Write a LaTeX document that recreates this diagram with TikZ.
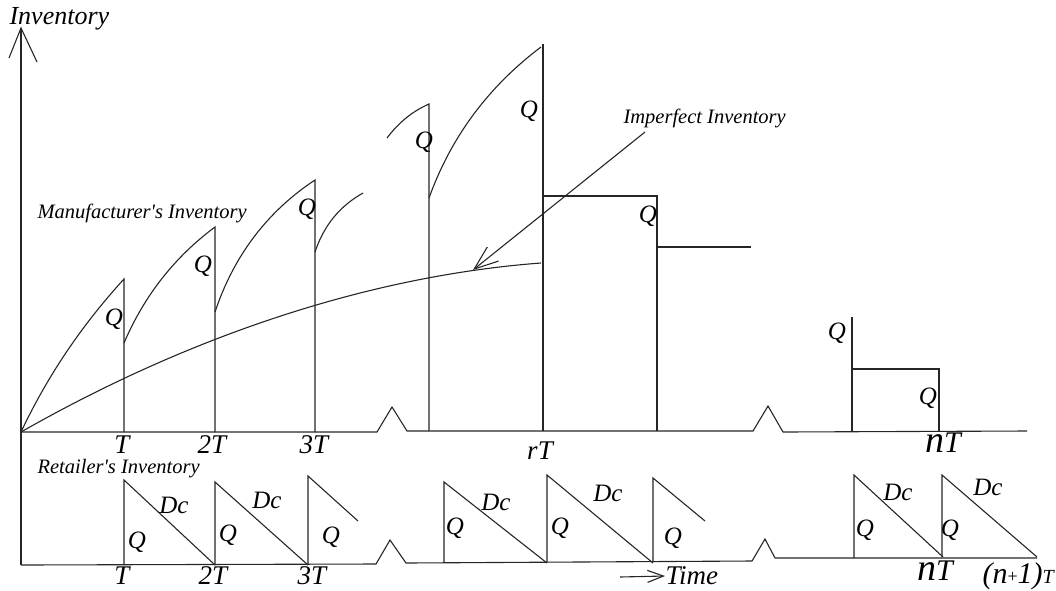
\documentclass[tikz,border=0pt]{standalone}
\usepackage{fontspec}
\setmainfont{Liberation Serif}
\usetikzlibrary{arrows.meta}
\begin{document}
\begin{tikzpicture}[x=1pt,y=-1pt,line width=1.1pt,
  ln/.style={draw=black!85},
  ql/.style={inner sep=0pt,font=\fontsize{25}{25}\selectfont\itshape},
  tl/.style={inner sep=0pt,font=\fontsize{27}{27}\selectfont\itshape},
  txt/.style={inner sep=0pt,anchor=west,font=\fontsize{20.5}{20.5}\selectfont\itshape}]
\useasboundingbox (0,0) rectangle (1056,590);
% axes
\coordinate (o) at (21,432);
\coordinate (ytop) at (21,28);
\coordinate (ybot) at (21,565);
\draw[ln,line width=1.4pt] (ybot) -- (ytop);
\draw[ln] (9,58) -- (ytop) -- (37,62);
\node[txt,font=\fontsize{26}{26}\selectfont\itshape] (ylab) at (9,19) {Inventory};
% upper time axis with breaks
\draw[ln] (o) -- (377,432) -- (392,407) -- (407,431) -- (753,431) -- (768,406) -- (783,432) -- (1027,431);
% lower time axis with breaks
\draw[ln] (ybot) -- (376,564) -- (390,540) -- (406,563) -- (752,561) -- (765,539) -- (775,558) -- (1037,558);
% manufacturer's cycles
\draw[ln] (o) .. controls (47,377) and (81,326) .. (124,279) -- (124,432);
\draw[ln] (124,343) .. controls (145,294) and (176,256) .. (215,227) -- (215,432);
\draw[ln] (215,312) .. controls (234,255) and (268,211) .. (315,180) -- (315,432);
\draw[ln] (315,252) .. controls (324,225) and (340,206) .. (363,193);
\draw[ln] (387,138) .. controls (399,122) and (413,111) .. (429,104) -- (429,431);
\draw[ln] (429,198) .. controls (451,137) and (488,87) .. (541,47);
\draw[ln] (543,44) -- (543,431);
\draw[ln] (543,196) -- (657,196) -- (657,431);
\draw[ln] (657,247) -- (751,247);
\draw[ln] (852,317) -- (852,431);
\draw[ln] (852,369) -- (939,369) -- (939,431);
% imperfect inventory curve
\draw[ln] (o) .. controls (200,330) and (380,275) .. (541,263);
% imperfect inventory label and arrow
\node[txt] (imp) at (623,118) {Imperfect Inventory};
\coordinate (impS) at (645,132);
\coordinate (impE) at (473,270);
\draw[ln,-{Straight Barb[length=24pt,width=18pt]}] (impS) -- (impE);
\node[txt] (man) at (37,213) {Manufacturer\textquotesingle s Inventory};
\node[txt] (ret) at (37,469) {Retailer\textquotesingle s Inventory};
% upper Q labels
\node[ql] (q1) at (114,319) {Q};
\node[ql] (q2) at (203,266) {Q};
\node[ql] (q3) at (307,209) {Q};
\node[ql] (q4) at (424,142) {Q};
\node[ql] (q5) at (529,111) {Q};
\node[ql] (q6) at (648,216) {Q};
\node[ql] (q7) at (837,333) {Q};
\node[ql] (q8) at (928,398) {Q};
% upper axis labels
\node[tl] (t1) at (122,445) {T};
\node[tl] (t2) at (212,445) {2T};
\node[tl] (t3) at (314,445) {3T};
\node[tl] (tr) at (540,451) {rT};
\node[inner sep=0pt,font=\itshape] (tn) at (943,443) {\fontsize{38}{38}\selectfont n\fontsize{30}{30}\selectfont T};
% retailer's triangles
\draw[ln] (124,565) -- (124,480) -- (215,565);
\draw[ln] (215,565) -- (215,482) -- (308,565);
\draw[ln] (308,565) -- (308,476) -- (358,521);
\draw[ln] (444,562) -- (444,482) -- (547,563);
\draw[ln] (547,562) -- (547,475) -- (653,563);
\draw[ln] (653,562) -- (653,478) -- (705,521);
\draw[ln] (854,558) -- (854,475) -- (943,557);
\draw[ln] (942,557) -- (942,475) -- (1037,557);
% lower labels
\node[ql] (r1) at (137,542) {Q};
\node[ql] (r2) at (228,535) {Q};
\node[ql] (r3) at (331,537) {Q};
\node[ql] (r4) at (455,528) {Q};
\node[ql] (r5) at (560,528) {Q};
\node[ql] (r6) at (673,538) {Q};
\node[ql] (r7) at (865,530) {Q};
\node[ql] (r8) at (950,530) {Q};
\node[ql] (d1) at (174,505) {Dc};
\node[ql] (d2) at (267,500) {Dc};
\node[ql] (d3) at (496,502) {Dc};
\node[ql] (d4) at (608,493) {Dc};
\node[ql] (d5) at (898,492) {Dc};
\node[ql] (d6) at (988,487) {Dc};
\node[tl] (b1) at (122,576) {T};
\node[tl] (b2) at (213,576) {2T};
\node[tl] (b3) at (312,576) {3T};
\node[inner sep=0pt,font=\itshape] (bn) at (935,571) {\fontsize{38}{38}\selectfont n\fontsize{30}{30}\selectfont T};
\node[inner sep=0pt,anchor=west,font=\itshape] (bn1) at (982,576) {\fontsize{30}{30}\selectfont(n\raisebox{1pt}{\fontsize{18}{18}\selectfont\upshape+}1)\fontsize{20}{20}\selectfont T};
% time arrow
\node[txt,font=\fontsize{27}{27}\selectfont\itshape] (time) at (665,576) {Time};
\coordinate (tS) at (620,577);
\draw[ln,-{Straight Barb[length=16pt,width=12pt]}] (tS) -- (time.west);
\end{tikzpicture}
\end{document}
